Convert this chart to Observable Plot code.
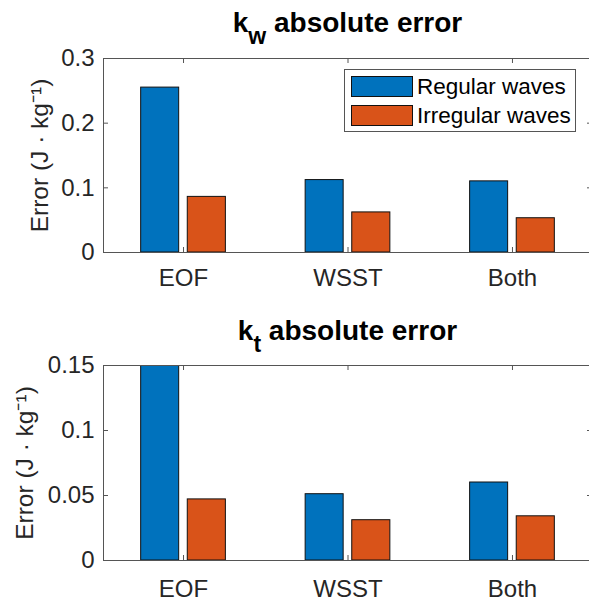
<!DOCTYPE html>
<html>
<head>
<meta charset="utf-8">
<script src="https://cdn.jsdelivr.net/npm/d3@7"></script>
<script src="https://cdn.jsdelivr.net/npm/@observablehq/plot@0.6"></script>
<style>
  html, body { margin: 0; padding: 0; background: #fff; }
  #wrap { position: relative; width: 589px; height: 601px; overflow: hidden; font-family: "Liberation Sans", Arial, sans-serif; color: #262626; }
  .title { position: absolute; left: 103px; width: 489px; text-align: center; font-weight: bold; font-size: 28px; line-height: 1; color: #000; white-space: nowrap; }
  .title sub { font-size: 23px; vertical-align: -12px; line-height: 0; }
  #legend { position: absolute; left: 344px; top: 69px; width: 232px; height: 63px; border: 1px solid #555; background: #fff; box-sizing: border-box; }
  .lrow { position: absolute; left: 6px; height: 21px; display: flex; align-items: center; font-size: 22.5px; color: #000; white-space: nowrap; }
  .sw { width: 60px; height: 19px; border: 1px solid #111; margin-right: 4px; }
</style>
</head>
<body>
<div id="wrap"></div>
<script>
// ---- data ----
const categories = ["EOF", "WSST", "Both"];
const seriesNames = ["Regular waves", "Irregular waves"];
const seriesColors = ["#0072BD", "#D95319"];

const kwRegular = [0.255, 0.112, 0.110];
const kwIrregular = [0.086, 0.062, 0.053];
const kwTicks = [0, 0.1, 0.2, 0.3];

const ktRegular = [0.15, 0.051, 0.060];
const ktIrregular = [0.047, 0.031, 0.034];
const ktTicks = [0, 0.05, 0.1, 0.15];

const yLabel = "Error (J · kg⁻¹)";

const wrap = document.getElementById("wrap");

function panel({regular, irregular, ticks, height, marginTop, marginBottom, top, labelOffset, xPad}) {
  const rows = categories.flatMap((c, i) => [
    {category: c, series: seriesNames[0], value: regular[i]},
    {category: c, series: seriesNames[1], value: irregular[i]}
  ]);
  const yMax = ticks[ticks.length - 1];
  const width = 589, marginLeft = 103, marginRight = -3;
  const fw = width - marginLeft - marginRight;
  const fh = height - marginTop - marginBottom;
  const tickLen = 5;
  const axisColor = "#555";
  const chart = Plot.plot({
    width, height, marginLeft, marginRight, marginTop, marginBottom,
    style: {fontFamily: "Liberation Sans, Arial, sans-serif", fontSize: "24px", color: "#262626", overflow: "hidden", background: "transparent"},
    x: {domain: categories, paddingInner: 0.485, paddingOuter: 0.229, round: false, label: null},
    y: {domain: [0, yMax], label: null},
    color: {domain: seriesNames, range: seriesColors},
    marks: [
      Plot.barY(rows.filter(d => d.series === seriesNames[0]), {x: "category", y: "value", fill: seriesColors[0], stroke: "#111", strokeWidth: 1, insetRight: 46.7, clip: true}),
      Plot.barY(rows.filter(d => d.series === seriesNames[1]), {x: "category", y: "value", fill: seriesColors[1], stroke: "#111", strokeWidth: 1, insetLeft: 46.6, clip: true}),
      Plot.frame({stroke: axisColor, strokeWidth: 1}),
      Plot.ruleY(ticks, {stroke: axisColor, insetRight: fw - tickLen}),
      Plot.ruleY(ticks, {stroke: axisColor, insetLeft: fw - tickLen}),
      Plot.ruleX(categories, {x: d => d, y1: yMax, y2: 0, stroke: axisColor, insetTop: fh - tickLen}),
      Plot.ruleX(categories, {x: d => d, y1: yMax, y2: 0, stroke: axisColor, insetBottom: fh - tickLen}),
      Plot.axisY({ticks, tickSize: 0, tickPadding: 9, tickFormat: d => String(d), fontSize: 24}),
      Plot.axisY({ticks: [], tickSize: 0, label: yLabel, labelAnchor: "center", labelOffset, labelArrow: "none", fontSize: 24.5}),
      Plot.axisX({tickSize: 0, tickPadding: xPad, label: null, fontSize: 24})
    ]
  });
  chart.style.position = "absolute";
  chart.style.left = "0px";
  chart.style.top = top + "px";
  wrap.appendChild(chart);
}

panel({regular: kwRegular, irregular: kwIrregular, ticks: kwTicks, height: 300, marginTop: 58, marginBottom: 48, top: 0, labelOffset: 73, xPad: 16});
panel({regular: ktRegular, irregular: ktIrregular, ticks: ktTicks, height: 301, marginTop: 65, marginBottom: 41, top: 300, labelOffset: 88, xPad: 19});

// titles
const t1 = document.createElement("div");
t1.className = "title"; t1.style.top = "9px";
t1.innerHTML = "k<sub>w</sub> absolute error";
wrap.appendChild(t1);
const t2 = document.createElement("div");
t2.className = "title"; t2.style.top = "317px";
t2.innerHTML = "k<sub>t</sub> absolute error";
wrap.appendChild(t2);

// legend
const lg = document.createElement("div");
lg.id = "legend";
seriesNames.forEach((name, i) => {
  const r = document.createElement("div");
  r.className = "lrow";
  r.style.top = (i === 0 ? 6 : 35) + "px";
  const sw = document.createElement("div");
  sw.className = "sw"; sw.style.background = seriesColors[i];
  r.appendChild(sw);
  const tx = document.createElement("span");
  tx.textContent = name;
  r.appendChild(tx);
  lg.appendChild(r);
});
wrap.appendChild(lg);
</script>
</body>
</html>
